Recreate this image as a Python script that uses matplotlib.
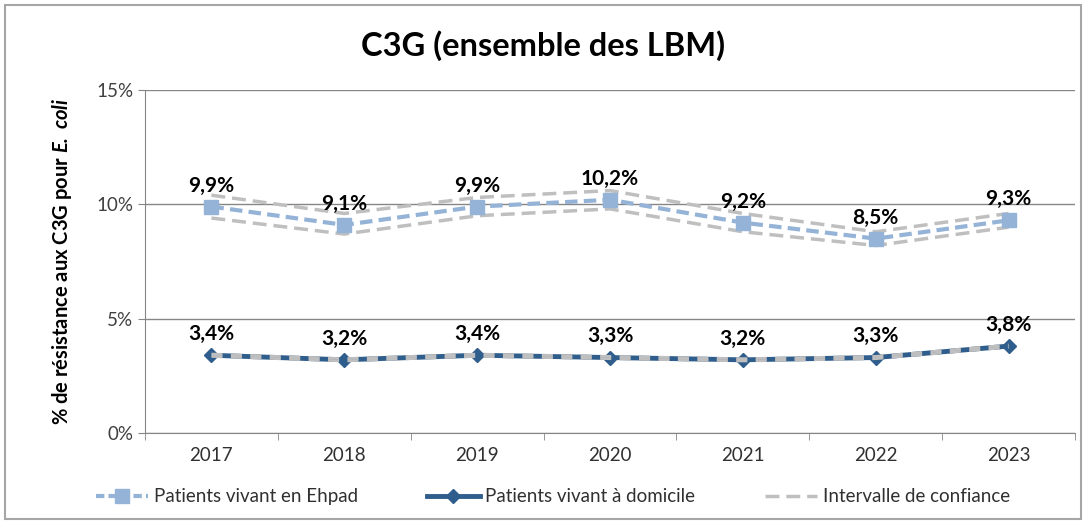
import matplotlib.pyplot as plt
import matplotlib.patches as patches
from matplotlib.lines import Line2D
from matplotlib.ticker import FuncFormatter, FixedLocator

plt.rcParams["font.family"] = ["Lato", "DejaVu Sans"]
plt.rcParams["mathtext.fontset"] = "custom"
plt.rcParams["mathtext.bfit"] = "Lato:italic:bold"
plt.rcParams["mathtext.it"] = "Lato:italic"
plt.rcParams["mathtext.bf"] = "Lato:bold"
plt.rcParams["mathtext.rm"] = "Lato"

# Data
years = ["2017", "2018", "2019", "2020", "2021", "2022", "2023"]
ehpad = [9.9, 9.1, 9.9, 10.2, 9.2, 8.5, 9.3]
ehpad_low = [9.4, 8.7, 9.5, 9.8, 8.8, 8.2, 9.0]
ehpad_high = [10.4, 9.6, 10.3, 10.6, 9.6, 8.8, 9.6]
domicile = [3.4, 3.2, 3.4, 3.3, 3.2, 3.3, 3.8]
domicile_low = [3.35, 3.15, 3.35, 3.25, 3.15, 3.25, 3.75]
domicile_high = [3.45, 3.25, 3.45, 3.35, 3.25, 3.35, 3.85]

c_ehpad = "#95B3D7"
c_dom = "#2F5D8C"
c_ci = "#BFBFBF"

fig = plt.figure(figsize=(10.86, 5.22), dpi=100)
ax = fig.add_axes([0.1335, 0.1705, 0.8564, 0.6571])

x = list(range(len(years)))

# domicile line first, CI dashes drawn on top of it
ax.plot(x, domicile, color=c_dom, linewidth=3.5, marker="D", markersize=7, zorder=3)
ax.plot(x, domicile_low, color=c_ci, linewidth=2, linestyle=(0, (4, 3)), zorder=4)
ax.plot(x, domicile_high, color=c_ci, linewidth=2, linestyle=(0, (4, 3)), zorder=4)

ax.plot(x, ehpad_low, color=c_ci, linewidth=2.5, linestyle=(0, (4, 2)), zorder=3)
ax.plot(x, ehpad_high, color=c_ci, linewidth=2.5, linestyle=(0, (4, 2)), zorder=3)
ax.plot(x, ehpad, color=c_ehpad, linewidth=3, linestyle=(0, (3, 1.5)),
        marker="s", markersize=10, zorder=5)

for i in x:
    ax.annotate(f"{ehpad[i]:.1f}%".replace(".", ","), (i, ehpad[i]),
                xytext=(0, 8), textcoords="offset points", ha="center",
                va="bottom", fontsize=15, fontweight="bold", zorder=6)
    ax.annotate(f"{domicile[i]:.1f}%".replace(".", ","), (i, domicile[i]),
                xytext=(0, 8), textcoords="offset points", ha="center",
                va="bottom", fontsize=15, fontweight="bold", zorder=6)

ax.set_xlim(-0.5, len(years) - 0.5)
ax.set_ylim(0, 15)
ax.set_yticks([0, 5, 10, 15])
ax.yaxis.set_major_formatter(FuncFormatter(lambda v, p: f"{v:.0f}%"))
ax.set_xticks(x)
ax.set_xticklabels(years)
ax.xaxis.set_minor_locator(FixedLocator([i - 0.5 for i in range(len(years) + 1)]))
ax.tick_params(axis="x", which="major", length=0, labelsize=13.5, pad=10)
ax.tick_params(axis="x", which="minor", length=5, color="#868686")
ax.tick_params(axis="y", length=5, color="#868686", labelsize=13.5, labelcolor="#404040")
ax.tick_params(axis="x", labelcolor="#303030")
ax.grid(axis="y", color="#868686", linewidth=1)
ax.set_axisbelow(True)
for s in ["top", "right"]:
    ax.spines[s].set_visible(False)
for s in ["left", "bottom"]:
    ax.spines[s].set_color("#868686")

ax.set_ylabel(r"% de résistance aux C3G pour $\mathbfit{E.\ coli}$",
              fontsize=14.5, fontweight="bold", labelpad=16)

fig.text(0.5, 0.912, "C3G (ensemble des LBM)", ha="center", va="center",
         fontsize=23.5, fontweight="bold")

# outer border
fig.patches.append(patches.Rectangle((0.005, 0.005), 0.99, 0.985,
                                     transform=fig.transFigure, fill=False,
                                     edgecolor="#A6A6A6", linewidth=1.5))

handles = [
    Line2D([0], [0], color=c_ehpad, linewidth=3, linestyle=(0, (2, 1)),
           marker="s", markersize=10),
    Line2D([0], [0], color=c_dom, linewidth=3.5, marker="D", markersize=7),
    Line2D([0], [0], color=c_ci, linewidth=2.5, linestyle=(0, (4, 2))),
]
labels = ["Patients vivant en Ehpad", "Patients vivant à domicile",
          "Intervalle de confiance"]
fig.legend(handles, labels, loc="center", bbox_to_anchor=(0.509, 0.048),
           ncol=3, frameon=False, fontsize=13.5, handlelength=2.8,
           handletextpad=0.3, columnspacing=3.7, labelcolor="#303030")

plt.savefig("out.png", dpi=100)
